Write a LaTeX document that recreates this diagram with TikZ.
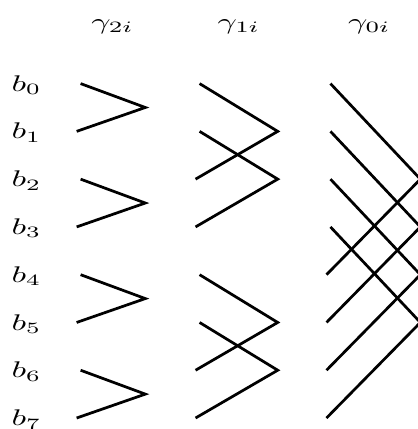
\documentclass[tikz,border=0pt]{standalone}
\usepackage{amsmath}
\tikzset{
    network/.style={x=1cm, y=0.675cm, line width=1.1pt},
    rowlabel/.style={inner sep=0pt, xscale=1.36, yscale=0.91},
    stagelabel/.style={inner sep=0pt, xscale=1.36, yscale=0.91},
    wire/.style={draw, line join=miter},
}

\begin{document}
\begin{tikzpicture}[network]
    \useasboundingbox (0,1.75) rectangle (5.9,-7.23);

    % inputs
    \foreach \i in {0,...,7}
        \node[rowlabel] (b\i) at (0.373,-\i-0.03) {$b_{\i}$};

    \node[stagelabel] (g2) at (1.589,1.1875) {$\gamma_{2i}$};
    \node[stagelabel] (g1) at (3.375,1.1875) {$\gamma_{1i}$};
    \node[stagelabel] (g0) at (5.217,1.1875) {$\gamma_{0i}$};

    % stage 2, distance 1
    \foreach \u/\l in {0/1,2/3,4/5,6/7} {
        \coordinate (s2-\u) at (1.139,-\u);
        \coordinate (s2-\l) at (1.083,-\l);
        \coordinate (t2-\u) at (2.053,{-(\u+\l)/2});
        \draw[wire] (s2-\u) -- (t2-\u) -- (s2-\l);
    }

    % stage 1, distance 2
    \foreach \u/\l in {0/2,1/3,4/6,5/7} {
        \coordinate (s1-\u) at (2.820,-\u);
        \coordinate (s1-\l) at (2.763,-\l);
        \coordinate (t1-\u) at (3.924,{-(\u+\l)/2});
        \draw[wire] (s1-\u) -- (t1-\u) -- (s1-\l);
    }

    % stage 0, distance 4
    \foreach \u/\l in {0/4,1/5,2/6,3/7} {
        \coordinate (s0-\u) at (4.669,-\u);
        \coordinate (s0-\l) at (4.613,-\l);
        \coordinate (t0-\u) at (5.940,{-(\u+\l)/2});
        \draw[wire] (s0-\u) -- (t0-\u) -- (s0-\l);
    }
\end{tikzpicture}
\end{document}
